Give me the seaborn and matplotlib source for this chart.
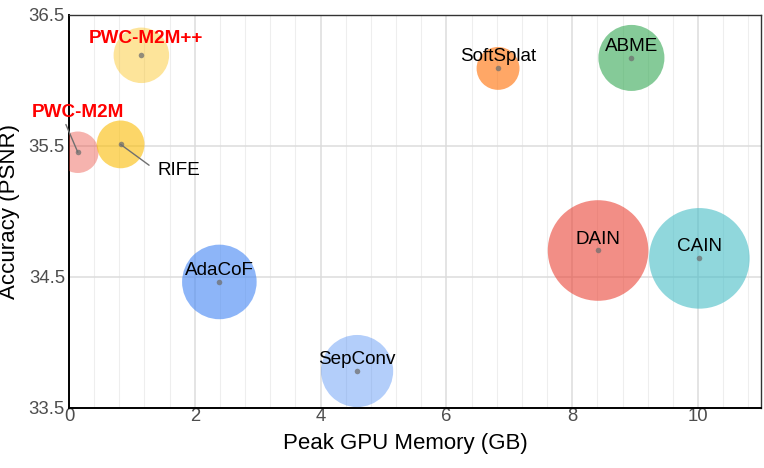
import matplotlib
matplotlib.use("Agg")
import matplotlib.pyplot as plt
from matplotlib.ticker import MultipleLocator, FixedLocator
from matplotlib.colors import to_rgba
import seaborn as sns
import pandas as pd

# ---------------- data ----------------
models = ["PWC-M2M", "PWC-M2M++", "RIFE", "SoftSplat", "ABME",
          "AdaCoF", "SepConv", "DAIN", "CAIN"]
memory_gb = [0.14, 1.15, 0.82, 6.82, 8.94, 2.39, 4.58, 8.41, 10.02]
psnr = [35.45, 36.19, 35.51, 36.09, 36.17, 34.46, 33.78, 34.70, 34.64]
bubble = [4.3, 7.7, 5.7, 4.6, 10.9, 13.9, 13.0, 25.3, 25.3]
highlight = ["PWC-M2M", "PWC-M2M++"]
xticks = [0, 2, 4, 6, 8, 10]
yticks = [33.5, 34.5, 35.5, 36.5]

# ---------------- styles ----------------
base = {"PWC-M2M": ("#EA4335", 0.4), "PWC-M2M++": ("#FBBC04", 0.4),
        "RIFE": ("#FBBC04", 0.6), "SoftSplat": ("#FF6D01", 0.6),
        "ABME": ("#34A853", 0.6), "AdaCoF": ("#4285F4", 0.6),
        "SepConv": ("#4285F4", 0.4), "DAIN": ("#EA4335", 0.6),
        "CAIN": ("#46BDC6", 0.6)}
palette = {k: to_rgba(c, a) for k, (c, a) in base.items()}

# label offsets in points: (dx, dy, ha)
label_style = {
    "PWC-M2M": (0, 25.2, "center"),
    "PWC-M2M++": (3.4, 8.9, "center"),
    "RIFE": (26.9, -22.3, "left"),
}
default_offset = (0, 5.0, "center")

df = pd.DataFrame({"model": models, "memory": memory_gb, "psnr": psnr,
                   "bubble": bubble})

sns.set_theme(style="white")
plt.rcParams["font.family"] = ["Liberation Sans", "DejaVu Sans"]

fig = plt.figure(figsize=(7.64, 4.68), dpi=100)
ax = fig.add_axes([69 / 764, 1 - 407.7 / 468, 692 / 764, 393 / 468])

px2s = (2 * 0.72) ** 2 * 100  # bubble unit -> marker area
sns.scatterplot(data=df, x="memory", y="psnr", hue="model", size="bubble",
                palette=palette, sizes=(0, px2s * max(bubble)),
                size_norm=(0, max(bubble)), linewidth=0, legend=False,
                ax=ax, zorder=3)
sns.scatterplot(data=df, x="memory", y="psnr", color="#6f6f6f", s=16,
                linewidth=0, alpha=0.75, legend=False, ax=ax, zorder=4)

for m, x, y in zip(models, memory_gb, psnr):
    dx, dy, ha = label_style.get(m, default_offset)
    if m in highlight:
        kw = dict(color="red", fontweight="bold")
    else:
        kw = dict(color="black")
    arrow = None
    if m == "PWC-M2M":
        arrow = dict(arrowstyle="-", color="#707070", lw=1.0,
                     relpos=(0.34, 0.2), shrinkA=0, shrinkB=0)
    elif m == "RIFE":
        arrow = dict(arrowstyle="-", color="#707070", lw=1.0,
                     relpos=(0, 0.45), shrinkA=5, shrinkB=0)
    ax.annotate(m, (x, y), xytext=(dx, dy), textcoords="offset points",
                ha=ha, va="baseline", fontsize=13.6, arrowprops=arrow,
                zorder=5, **kw)

ax.set_xlim(0, 11)
ax.set_ylim(33.5, 36.5)
ax.xaxis.set_major_locator(FixedLocator(xticks))
ax.xaxis.set_minor_locator(MultipleLocator(0.4))
ax.yaxis.set_major_locator(FixedLocator(yticks))
ax.set_xticklabels([str(t) for t in xticks])
ax.set_yticklabels([str(t) for t in yticks])

ax.grid(True, which="major", color="#DCDCDC", lw=1.1, zorder=0)
ax.grid(True, which="minor", axis="x", color="#EEEEEE", lw=0.8, zorder=0)
ax.set_axisbelow(True)

ax.tick_params(axis="both", which="both", length=0, labelsize=13.3,
               labelcolor="#4D4D4D")
ax.tick_params(axis="x", pad=0.5)
ax.tick_params(axis="y", pad=2.9)

for s in ["left", "bottom"]:
    ax.spines[s].set_color("black")
    ax.spines[s].set_linewidth(1.4)
for s in ["top", "right"]:
    ax.spines[s].set_color("#333333")
    ax.spines[s].set_linewidth(1.0)

ax.set_xlabel("Peak GPU Memory (GB)", fontsize=16, color="black")
ax.set_ylabel("Accuracy (PSNR)", fontsize=16, color="black")
ax.xaxis.set_label_coords(0.4855, -0.0644)
ax.yaxis.set_label_coords(-0.071, 0.5)

fig.savefig("out.png", dpi=100)
